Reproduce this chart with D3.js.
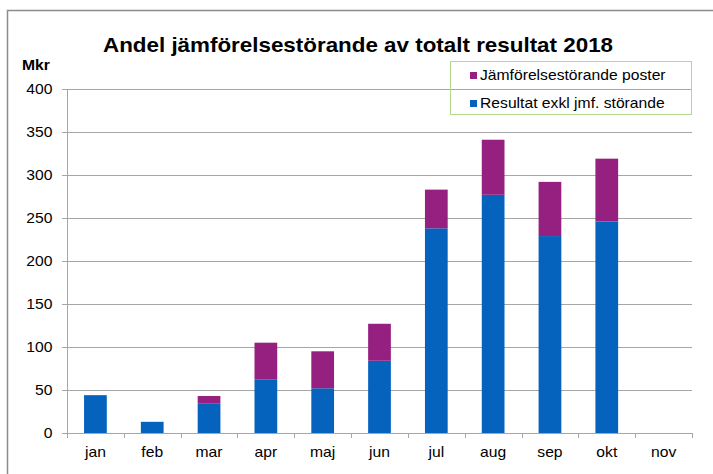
<!DOCTYPE html>
<html>
<head>
<meta charset="utf-8">
<script src="https://cdn.jsdelivr.net/npm/d3@7"></script>
<style>
  body { margin: 0; background: #fff; }
  text { font-family: Arial, "Liberation Sans", sans-serif; fill: #000; }
</style>
</head>
<body>
<div id="chart"></div>
<script>
var months = ["jan", "feb", "mar", "apr", "maj", "jun", "jul", "aug", "sep", "okt", "nov"];
var resultat = [44, 13, 34, 62, 52, 84, 238, 277, 229, 246, 0];
var jmfPoster = [0, 0, 9, 43, 43, 43, 45, 64, 63, 73, 0];
var yTicks = [0, 50, 100, 150, 200, 250, 300, 350, 400];
var seriesNames = ["Jämförelsestörande poster", "Resultat exkl jmf. störande"];
var colors = ["#952080", "#0563be"];

var W = 713, H = 474;
var margin = {top: 89, right: 21, bottom: 41, left: 67};
var width = W - margin.left - margin.right,
    height = H - margin.top - margin.bottom;
var stretch = "scale(1.12,1)"; // text in the original is a bit wide

var svg = d3.select("#chart").append("svg")
  .attr("width", W)
  .attr("height", H);

svg.append("rect").attr("width", W).attr("height", H).attr("fill", "#fff");

// outer chart border (runs off right/bottom edge)
svg.append("rect")
  .attr("x", 7.5).attr("y", 10.5)
  .attr("width", W + 10).attr("height", H + 10)
  .attr("fill", "none").attr("stroke", "#8c8c8c").attr("stroke-width", 1.5);

svg.append("text")
  .attr("transform", "translate(358,52) " + stretch)
  .attr("text-anchor", "middle")
  .style("font-size", "20px").style("font-weight", "bold")
  .text("Andel jämförelsestörande av totalt resultat 2018");

svg.append("text")
  .attr("transform", "translate(22,70) " + stretch)
  .style("font-size", "14px").style("font-weight", "bold")
  .text("Mkr");

var g = svg.append("g")
  .attr("transform", "translate(" + margin.left + "," + margin.top + ")");

var x = d3.scaleBand().domain(months).range([0, width]).paddingInner(0.6).paddingOuter(0.3);
var xb = d3.scaleBand().domain(months).range([0, width]);
var y = d3.scaleLinear().domain([0, 400]).range([height, 0]);

// gridlines
g.selectAll(".grid").data(yTicks.slice(1)).enter().append("line")
  .attr("x1", 0).attr("x2", width)
  .attr("y1", function (d) { return Math.round(y(d)) + 0.5; })
  .attr("y2", function (d) { return Math.round(y(d)) + 0.5; })
  .attr("stroke", "#a6a6a6");

var stackData = months.map(function (m, i) {
  return {month: m, res: resultat[i], jmf: jmfPoster[i]};
});
var stack = d3.stack().keys(["res", "jmf"])(stackData);

g.selectAll(".layer").data(stack).enter().append("g")
  .attr("fill", function (d, i) { return i == 0 ? colors[1] : colors[0]; })
  .selectAll("rect").data(function (d) { return d; }).enter().append("rect")
  .attr("x", function (d) { return x(d.data.month); })
  .attr("width", x.bandwidth())
  .attr("y", function (d) { return y(d[1]); })
  .attr("height", function (d) { return y(d[0]) - y(d[1]); });

// y axis
var yAxis = g.append("g")
  .call(d3.axisLeft(y).tickValues(yTicks).tickSize(5).tickPadding(8));
// x axis with ticks at band edges
var xAxis = g.append("g")
  .attr("transform", "translate(0," + height + ")")
  .call(d3.axisBottom(xb).tickSize(0).tickPadding(14));
xAxis.selectAll(".edge").data(d3.range(months.length + 1)).enter().append("line")
  .attr("x1", function (i) { return Math.round(i * xb.step()) + 0.5; })
  .attr("x2", function (i) { return Math.round(i * xb.step()) + 0.5; })
  .attr("y1", 0).attr("y2", 5)
  .attr("stroke", "#a6a6a6");

[yAxis, xAxis].forEach(function (a) {
  a.select(".domain").attr("stroke", "#a6a6a6");
  a.selectAll(".tick line").attr("stroke", "#a6a6a6");
  a.selectAll("text")
    .attr("transform", stretch)
    .style("font-size", "14px")
    .style("font-family", "Arial, 'Liberation Sans', sans-serif")
    .attr("fill", "#000");
});

// legend
var legend = svg.append("g").attr("transform", "translate(450,61)");
legend.append("rect")
  .attr("x", 0.5).attr("y", 0.5).attr("width", 241).attr("height", 53)
  .attr("fill", "none").attr("stroke", "#b3d98c");
seriesNames.forEach(function (name, i) {
  var item = legend.append("g").attr("transform", "translate(20," + (13 + i * 28) + ")");
  item.append("rect").attr("x", 0).attr("y", -2).attr("width", 7).attr("height", 7).attr("fill", colors[i]);
  item.append("text")
    .attr("transform", "translate(10,5.5) " + stretch)
    .style("font-size", "14px").text(name);
});
</script>
</body>
</html>
